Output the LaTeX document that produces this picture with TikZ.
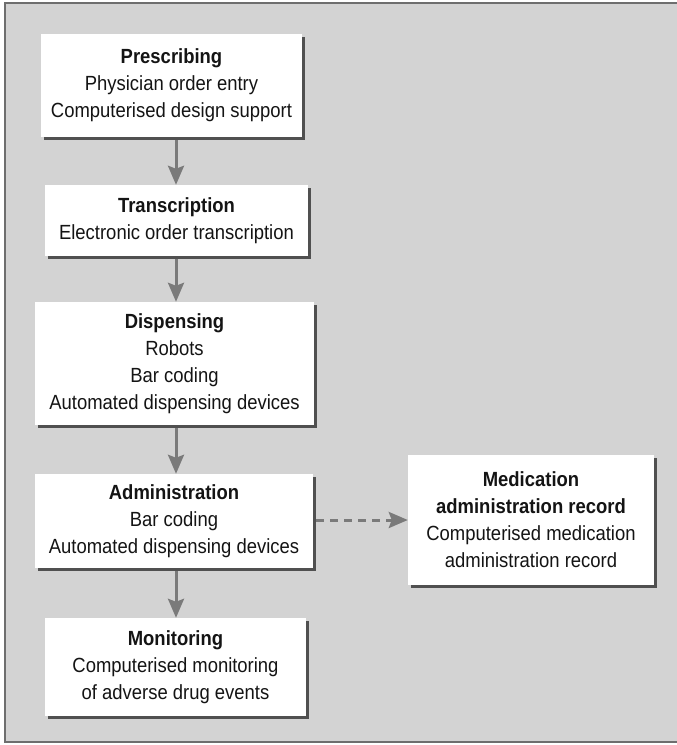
\documentclass[tikz,border=0pt]{standalone}
\usepackage{fontspec}
\setmainfont{Liberation Sans}[FakeStretch=0.9]
\usetikzlibrary{arrows.meta,shadows}

\definecolor{panel}{HTML}{D3D3D3}
\definecolor{frameline}{HTML}{6E6E6E}
\definecolor{shade}{HTML}{505050}
\definecolor{flow}{HTML}{7A7A7A}
\definecolor{ink}{HTML}{141414}

\tikzset{
  stagebox/.style={
    fill=white, draw=none, inner sep=0pt, align=center, text=ink,
    font=\fontsize{20.5}{27}\selectfont,
    drop shadow={shadow xshift=3pt, shadow yshift=-3pt, fill=shade, opacity=1}
  },
  flowarrow/.style={
    draw=flow, line width=3pt,
    -{Stealth[length=19pt, width=16pt, inset=3pt, fill=flow]}
  },
  linkarrow/.style={
    flowarrow, dash pattern=on 8pt off 6pt
  }
}

\begin{document}
\begin{tikzpicture}[x=1pt, y=-1pt]
  \useasboundingbox (0,0) rectangle (677,745);

  % grey panel with its frame
  \fill[panel] (5,3) rectangle (677,742);
  \draw[frameline, line width=1.5pt] (677,3) -- (5,3) -- (5,742) -- (677,742);

  % stages of the medication process
  \node[stagebox, minimum width=261pt, minimum height=103pt] (presc) at (171.5,85.5)
    {\textbf{Prescribing}\\Physician order entry\\Computerised design support};
  \node[stagebox, minimum width=263pt, minimum height=71pt] (trans) at (176.5,220.5)
    {\textbf{Transcription}\\Electronic order transcription};
  \node[stagebox, minimum width=279pt, minimum height=123pt] (disp) at (174.5,363.5)
    {\textbf{Dispensing}\\Robots\\Bar coding\\Automated dispensing devices};
  \node[stagebox, minimum width=278pt, minimum height=94pt] (admin) at (174,521)
    {\textbf{Administration}\\Bar coding\\Automated dispensing devices};
  \node[stagebox, minimum width=261pt, minimum height=98pt] (monit) at (175.5,667)
    {\textbf{Monitoring}\\Computerised monitoring\\of adverse drug events};
  \node[stagebox, minimum width=246pt, minimum height=130pt] (mar) at (531,520)
    {\textbf{Medication}\\\textbf{administration record}\\Computerised medication\\administration record};

  % column the main flow runs down
  \coordinate (col) at (176,0);

  \draw[flowarrow] ([yshift=-3pt]presc.south -| col) -- (trans.north -| col);
  \draw[flowarrow] ([yshift=-3pt]trans.south -| col) -- (disp.north -| col);
  \draw[flowarrow] ([yshift=-3pt]disp.south -| col) -- (admin.north -| col);
  \draw[flowarrow] ([yshift=-3pt]admin.south -| col) -- (monit.north -| col);

  % link to the administration record
  \draw[linkarrow] ([xshift=3pt]admin.east |- mar.west) -- (mar.west);
\end{tikzpicture}
\end{document}
